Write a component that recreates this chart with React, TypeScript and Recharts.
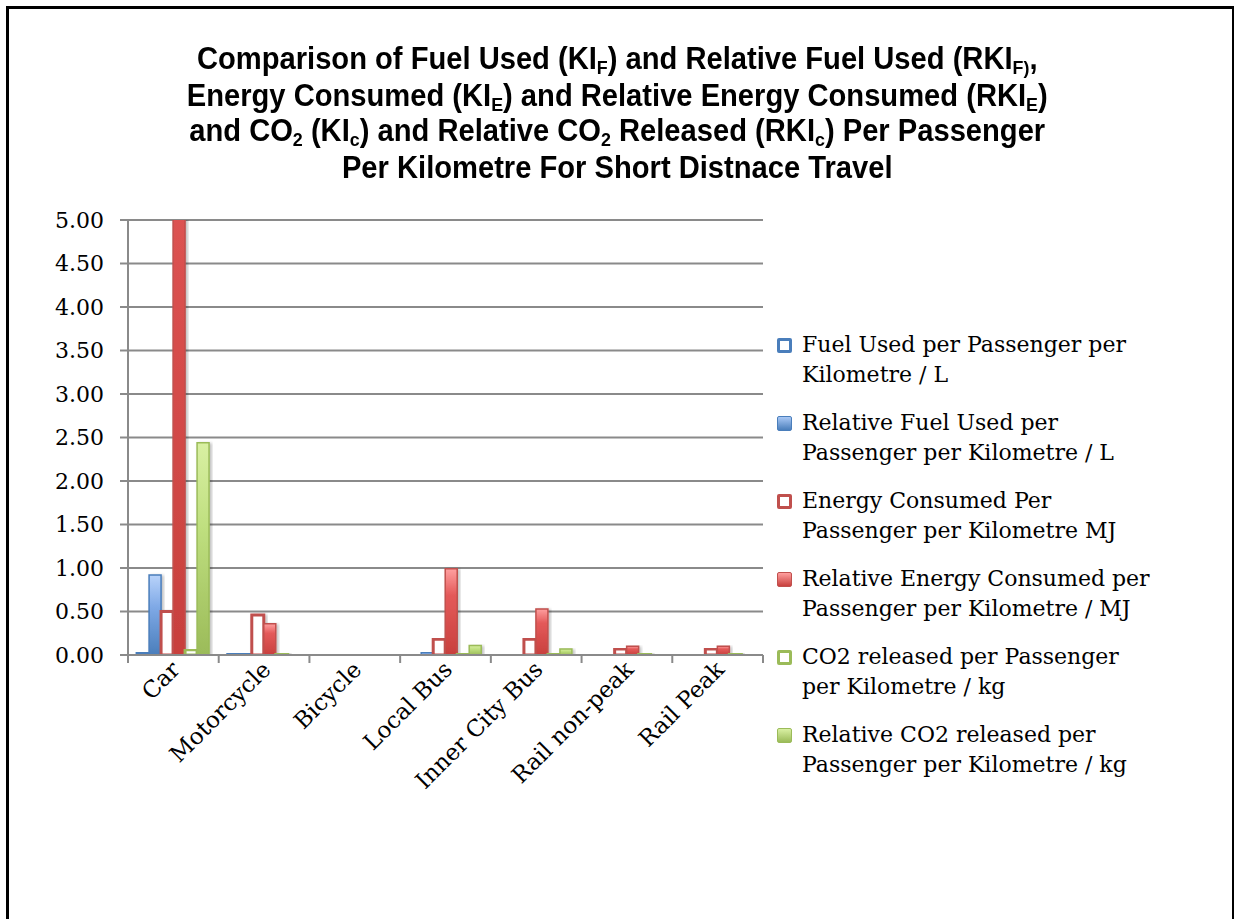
import React from 'react';
import { BarChart, Bar, XAxis, YAxis, CartesianGrid } from 'recharts';

const categories = ['Car', 'Motorcycle', 'Bicycle', 'Local Bus', 'Inner City Bus', 'Rail non-peak', 'Rail Peak'];

// values per passenger per kilometre
const fuelUsed = [0.03, 0.02, 0, 0.01, 0.01, 0.01, 0.01];
const relFuelUsed = [0.92, 0.02, 0, 0.03, 0.01, 0, 0];
const energyUsed = [0.5, 0.46, 0, 0.18, 0.18, 0.07, 0.07];
const relEnergyUsed = [10, 0.36, 0, 0.99, 0.53, 0.1, 0.1]; // car runs off the top of the axis
const co2Released = [0.06, 0.02, 0, 0.02, 0.02, 0.02, 0.02];
const relCo2Released = [2.44, 0.01, 0, 0.11, 0.07, 0.005, 0.005];

const yTicks = [0, 0.5, 1, 1.5, 2, 2.5, 3, 3.5, 4, 4.5, 5];

const series = [
  { key: 'fuel', name: 'Fuel Used per Passenger per\nKilometre / L', values: fuelUsed, color: '#4a7ebb', hollow: true },
  { key: 'relFuel', name: 'Relative Fuel Used per\nPassenger per Kilometre / L', values: relFuelUsed, color: '#4a7ebb', hollow: false, grad: 'gBlue' },
  { key: 'energy', name: 'Energy Consumed Per\nPassenger per Kilometre MJ', values: energyUsed, color: '#c0504d', hollow: true },
  { key: 'relEnergy', name: 'Relative Energy Consumed per\nPassenger per Kilometre / MJ', values: relEnergyUsed, color: '#c0504d', hollow: false, grad: 'gRed' },
  { key: 'co2', name: 'CO2 released per Passenger\nper Kilometre / kg', values: co2Released, color: '#9bbb59', hollow: true },
  { key: 'relCo2', name: 'Relative CO2 released per\nPassenger per Kilometre / kg', values: relCo2Released, color: '#9bbb59', hollow: false, grad: 'gGreen' },
];

const data = categories.map((name, i) => {
  const row: any = { name };
  series.forEach((s) => { row[s.key] = s.values[i]; });
  return row;
});

const FONT = '"DejaVu Serif", serif';
const GRID = '#8a8a8a';
const legendGrads: Record<string, string> = {
  gBlue: 'linear-gradient(#a9c8f5, #4a7ebb)',
  gRed: 'linear-gradient(#ff9f9f, #c8403d)',
  gGreen: 'linear-gradient(#d9f0a3, #9bbb59)',
};

const CatTick = (props: any) => {
  const { x, y, payload, index, visibleTicksCount } = props;
  const half = payload.offset || 0;
  const last = index === visibleTicksCount - 1;
  const tx = x + 8;
  const ty = y + 8;
  return (
    <g>
      <line x1={x - half} x2={x - half} y1={y - 8} y2={y} stroke={GRID} strokeWidth={2} />
      {last && <line x1={x + half} x2={x + half} y1={y - 8} y2={y} stroke={GRID} strokeWidth={2} />}
      <text
        x={tx}
        y={ty}
        transform={`rotate(-45, ${tx}, ${ty})`}
        textAnchor="end"
        fontFamily={FONT}
        fontSize={23}
        fill="#000"
      >
        {payload.value}
      </text>
    </g>
  );
};

const Sub = ({ children }: { children: React.ReactNode }) => (
  <span style={{ fontSize: 19, display: 'inline-block', lineHeight: '16px', position: 'relative', top: 5 }}>
    {children}
  </span>
);

const titleLine = (top: number): React.CSSProperties => ({
  position: 'absolute',
  left: 0,
  top,
  width: 1234,
  textAlign: 'center',
  lineHeight: '32px',
  whiteSpace: 'nowrap',
});

const Title = () => (
  <div
    style={{
      position: 'absolute',
      left: 0,
      top: 0,
      width: 1234,
      transform: 'scaleX(0.94)',
      transformOrigin: '621px 0',
      fontFamily: '"Liberation Sans", sans-serif',
      fontWeight: 'bold',
      fontSize: 31,
      color: '#000',
    }}
  >
    <div style={titleLine(43)}>
      Comparison of Fuel Used (KI<Sub>F</Sub>) and Relative Fuel Used (RKI<Sub>F)</Sub>,
    </div>
    <div style={titleLine(80)}>
      Energy Consumed (KI<Sub>E</Sub>) and Relative Energy Consumed (RKI<Sub>E</Sub>)
    </div>
    <div style={titleLine(115)}>
      and CO<Sub>2</Sub> (KI<Sub>c</Sub>) and Relative CO<Sub>2</Sub> Released (RKI<Sub>c</Sub>) Per Passenger
    </div>
    <div style={titleLine(152)}>Per Kilometre For Short Distnace Travel</div>
  </div>
);

const LegendBox = () => (
  <div style={{ position: 'absolute', left: 777, top: 330, fontFamily: FONT, fontSize: 22, color: '#000' }}>
    {series.map((s) => (
      <div key={s.key} style={{ display: 'flex', alignItems: 'flex-start', height: 78 }}>
        <div
          style={{
            width: s.hollow ? 9 : 13,
            height: s.hollow ? 9 : 13,
            marginTop: 8,
            marginRight: 10,
            border: s.hollow ? `3px solid ${s.color}` : `1px solid ${s.color}`,
            background: s.hollow ? '#fff' : undefined,
            backgroundImage: s.hollow ? undefined : legendGrads[s.grad as string],
            borderRadius: 2,
            flex: 'none',
          }}
        />
        <div style={{ whiteSpace: 'pre-line', lineHeight: '30px' }}>{s.name}</div>
      </div>
    ))}
  </div>
);

export default function App() {
  return (
    <div style={{ position: 'absolute', left: 0, top: 0, width: 1234, height: 919, overflow: 'hidden', background: '#fff' }}>
      <div
        style={{
          position: 'absolute',
          left: 6,
          top: 6,
          width: 1223,
          height: 1000,
          border: '3px solid #000',
        }}
      />
      <Title />
      <div style={{ position: 'absolute', left: 0, top: 0 }}>
        <BarChart
          width={1234}
          height={919}
          data={data}
          margin={{ top: 220, right: 471, bottom: 0, left: 0 }}
          barCategoryGap="10%"
          barGap={0}
        >
          <defs>
            <linearGradient id="gBlue" x1="0" y1="0" x2="0" y2="1">
              <stop offset="0%" stopColor="#b9d3fa" />
              <stop offset="40%" stopColor="#7fa9e6" />
              <stop offset="100%" stopColor="#4a7ebb" />
            </linearGradient>
            <linearGradient id="gRed" x1="0" y1="0" x2="0" y2="1">
              <stop offset="0%" stopColor="#ffa0a0" />
              <stop offset="30%" stopColor="#e45a5a" />
              <stop offset="100%" stopColor="#c8403d" />
            </linearGradient>
            <linearGradient id="gGreen" x1="0" y1="0" x2="0" y2="1">
              <stop offset="0%" stopColor="#d9f0a3" />
              <stop offset="40%" stopColor="#bfdf7f" />
              <stop offset="100%" stopColor="#9bbb59" />
            </linearGradient>
            <filter id="barShadow" x="-30%" y="-5%" width="160%" height="110%">
              <feDropShadow dx="2" dy="1" stdDeviation="1.5" floodColor="#000" floodOpacity="0.25" />
            </filter>
          </defs>
          <CartesianGrid vertical={false} stroke={GRID} strokeWidth={2} />
          <XAxis
            dataKey="name"
            height={264}
            interval={0}
            axisLine={{ stroke: GRID, strokeWidth: 2 }}
            tickLine={false}
            tickSize={8}
            tickMargin={0}
            tick={<CatTick />}
          />
          <YAxis
            width={128}
            domain={[0, 5]}
            ticks={yTicks}
            allowDataOverflow
            tickFormatter={(v: number) => v.toFixed(2)}
            axisLine={{ stroke: GRID, strokeWidth: 2 }}
            tickLine={{ stroke: GRID, strokeWidth: 2 }}
            tickSize={8}
            tickMargin={16}
            tick={{ fontFamily: FONT, fontSize: 22, fill: '#000' }}
          />
          {series.map((s) => (
            <Bar
              key={s.key}
              dataKey={s.key}
              name={s.name}
              fill={s.hollow ? '#fff' : `url(#${s.grad})`}
              stroke={s.color}
              strokeWidth={s.hollow ? 3 : 1.5}
              filter="url(#barShadow)"
              isAnimationActive={false}
            />
          ))}
        </BarChart>
      </div>
      <LegendBox />
    </div>
  );
}
